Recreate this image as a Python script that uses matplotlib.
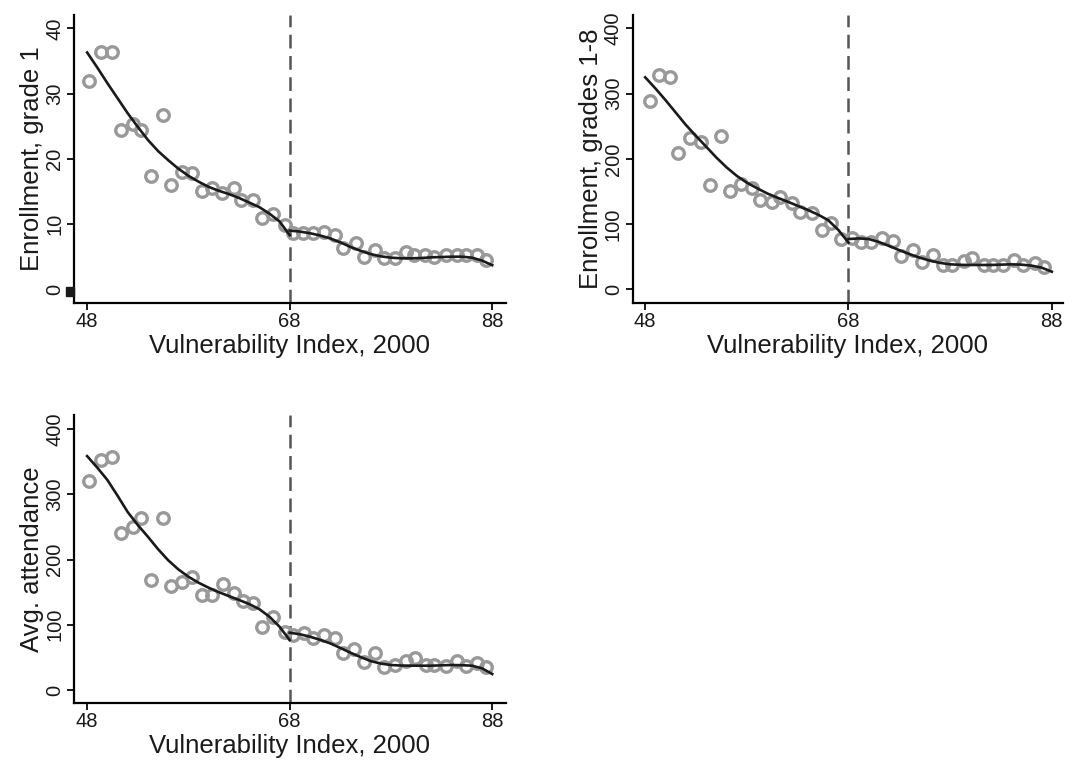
import numpy as np
import matplotlib
matplotlib.use('Agg')
import matplotlib.pyplot as plt
from matplotlib.patches import Rectangle

plt.rcParams['font.family'] = ['Liberation Sans', 'DejaVu Sans']

# binned scatter (x = bin mean of vulnerability index)
x1 = [48.2, 49.35, 50.5, 51.3, 52.5, 53.3, 54.35, 55.5, 56.3, 57.4, 58.4, 59.35, 60.3, 61.3,
      62.5, 63.2, 64.4, 65.3, 66.4, 67.5, 68.3, 69.3, 70.3, 71.4, 72.5, 73.3, 74.5, 75.35,
      76.4, 77.3, 78.4, 79.5, 80.3, 81.4, 82.25, 83.4, 84.5, 85.4, 86.5, 87.36]
grade1 = [32.0, 36.4, 36.4, 24.4, 25.4, 24.4, 17.3, 26.7, 16.0, 18.0, 17.8, 15.0, 15.5, 14.7,
          15.5, 13.7, 13.7, 10.9, 11.6, 9.85, 8.6, 8.6, 8.6, 8.8, 8.3, 6.3, 7.05, 5.0,
          6.0, 4.75, 4.75, 5.67, 5.26, 5.2, 4.9, 5.2, 5.2, 5.2, 5.2, 4.5]

x2 = [48.46, 49.34, 50.48, 51.24, 52.38, 53.5, 54.34, 55.42, 56.3, 57.44, 58.5, 59.3, 60.45, 61.27,
      62.4, 63.23, 64.37, 65.4, 66.27, 67.3, 68.3, 69.27, 70.2, 71.27, 72.4, 73.2, 74.3, 75.2,
      76.33, 77.3, 78.2, 79.34, 80.16, 81.3, 82.2, 83.2, 84.3, 85.2, 86.3, 87.2]
grades18 = [289, 328.5, 325, 208.4, 231.4, 226.3, 160, 235, 151.2, 161, 154.8, 136.9, 133.3, 142,
            131.8, 119, 117, 91, 102, 76.6, 78, 72, 72, 79, 74.6, 51, 60.3, 42.4,
            52.6, 37.3, 37.3, 44, 47.5, 37.3, 37.3, 37.3, 45, 37.3, 39.8, 33.7]

x3 = [48.2, 49.35, 50.5, 51.3, 52.5, 53.3, 54.35, 55.5, 56.3, 57.4, 58.4, 59.35, 60.3, 61.4,
      62.5, 63.35, 64.4, 65.3, 66.4, 67.5, 68.3, 69.4, 70.3, 71.4, 72.5, 73.3, 74.4, 75.35,
      76.4, 77.3, 78.4, 79.5, 80.4, 81.45, 82.25, 83.4, 84.5, 85.4, 86.5, 87.36]
attend = [320.8, 352.5, 356.6, 240, 250, 264, 168.6, 263, 160, 165, 173.7, 145.6, 145.6, 162,
          148, 136.4, 133.8, 97, 111.4, 88.4, 84.3, 86.8, 79.2, 84.3, 80.2, 56.2, 62.3, 43.4,
          57.2, 34.7, 38.3, 44.4, 49.6, 38.3, 38.3, 37.3, 44.4, 37.3, 40.9, 35.8]

fit_xl = list(range(48, 69))
fit_xr = list(range(68, 89))
fit1_l = [36.3, 34.0, 31.6, 29.3, 27.0, 24.9, 22.9, 21.2, 19.8, 18.5, 17.4,
          16.5, 15.7, 15.1, 14.6, 14.0, 13.3, 12.6, 11.6, 10.4, 8.3]
fit1_r = [9.0, 8.85, 8.6, 8.25, 7.8, 7.2, 6.5, 5.9, 5.4, 5.05, 4.85,
          4.75, 4.75, 4.8, 4.9, 4.95, 5.0, 5.0, 4.85, 4.4, 3.7]
fit2_l = [325, 308, 290, 271, 252, 235, 218.6, 202, 187, 174, 163.5,
          155, 147, 140.5, 134.4, 128, 121.6, 114.5, 106, 91, 71.5]
fit2_r = [77, 78, 77, 72.5, 66.4, 60, 54, 48.5, 44, 40.5, 38.3,
          37.5, 37.3, 37.3, 37.3, 37.8, 38.3, 37.8, 36.3, 33.2, 27]
fit3_l = [358.6, 341, 322, 298, 273, 253, 235, 216, 199, 185, 173.7,
          164.5, 156.8, 150, 144, 138, 131.8, 124, 112.4, 97, 76.6]
fit3_r = [87.9, 85.5, 81.7, 77, 71.5, 64.5, 57.2, 50.5, 44.4, 40.5, 38.3,
          37.5, 37.3, 37.3, 37.3, 37.8, 38.3, 38.0, 37.3, 33.2, 24.5]

cutoff = 68

fig = plt.figure(figsize=(10.78, 7.63), dpi=100)
ax1 = fig.add_axes([0.0686, 0.6033, 0.4007, 0.377])
ax2 = fig.add_axes([0.5869, 0.6033, 0.3989, 0.377])
ax3 = fig.add_axes([0.0686, 0.079, 0.4007, 0.377])

panels = [
    (ax1, x1, grade1, fit1_l, fit1_r, 'Enrollment, grade 1', [0, 10, 20, 30, 40], (-2.05, 42.04)),
    (ax2, x2, grades18, fit2_l, fit2_r, 'Enrollment, grades 1-8', [0, 100, 200, 300, 400], (-20.5, 420.4)),
    (ax3, x3, attend, fit3_l, fit3_r, 'Avg. attendance', [0, 100, 200, 300, 400], (-19.5, 421.5)),
]

for ax, xs, ys, fl, fr, lab, yt, yl in panels:
    ax.plot(xs, ys, 'o', ms=8.3, mfc='none', mec='#999999', mew=2.4, zorder=2)
    ax.plot(fit_xl, fl, color='#1a1a1a', lw=1.9, zorder=3)
    ax.plot(fit_xr, fr, color='#1a1a1a', lw=1.9, zorder=3)
    ax.axvline(cutoff, color='#555555', lw=1.8, dashes=(5.5, 3.0), zorder=1)
    ax.set_xlim(46.7, 89.35)
    ax.set_ylim(*yl)
    ax.set_xticks([48, 68, 88])
    ax.set_yticks(yt)
    ax.spines['top'].set_visible(False)
    ax.spines['right'].set_visible(False)
    ax.spines['left'].set_linewidth(1.6)
    ax.spines['bottom'].set_linewidth(1.6)
    ax.tick_params(direction='out', length=5, width=1.4, labelsize=14.5, colors='#1a1a1a', pad=2)
    for t in ax.get_yticklabels():
        t.set_rotation(90)
        t.set_va('center')
    ax.set_xlabel('Vulnerability Index, 2000', fontsize=18.5, color='#1a1a1a', labelpad=2)
    ax.set_ylabel(lab, fontsize=18.5, color='#1a1a1a', labelpad=1)

ax2.set_xlim(46.77, 89.07)

# small dark block on the first panel's axis (present in the original image)
ax1.add_patch(Rectangle((-0.019, 0.022), 0.019, 0.032, transform=ax1.transAxes,
                        color='#1a1a1a', clip_on=False, zorder=5))

fig.savefig('out.png', dpi=100)
